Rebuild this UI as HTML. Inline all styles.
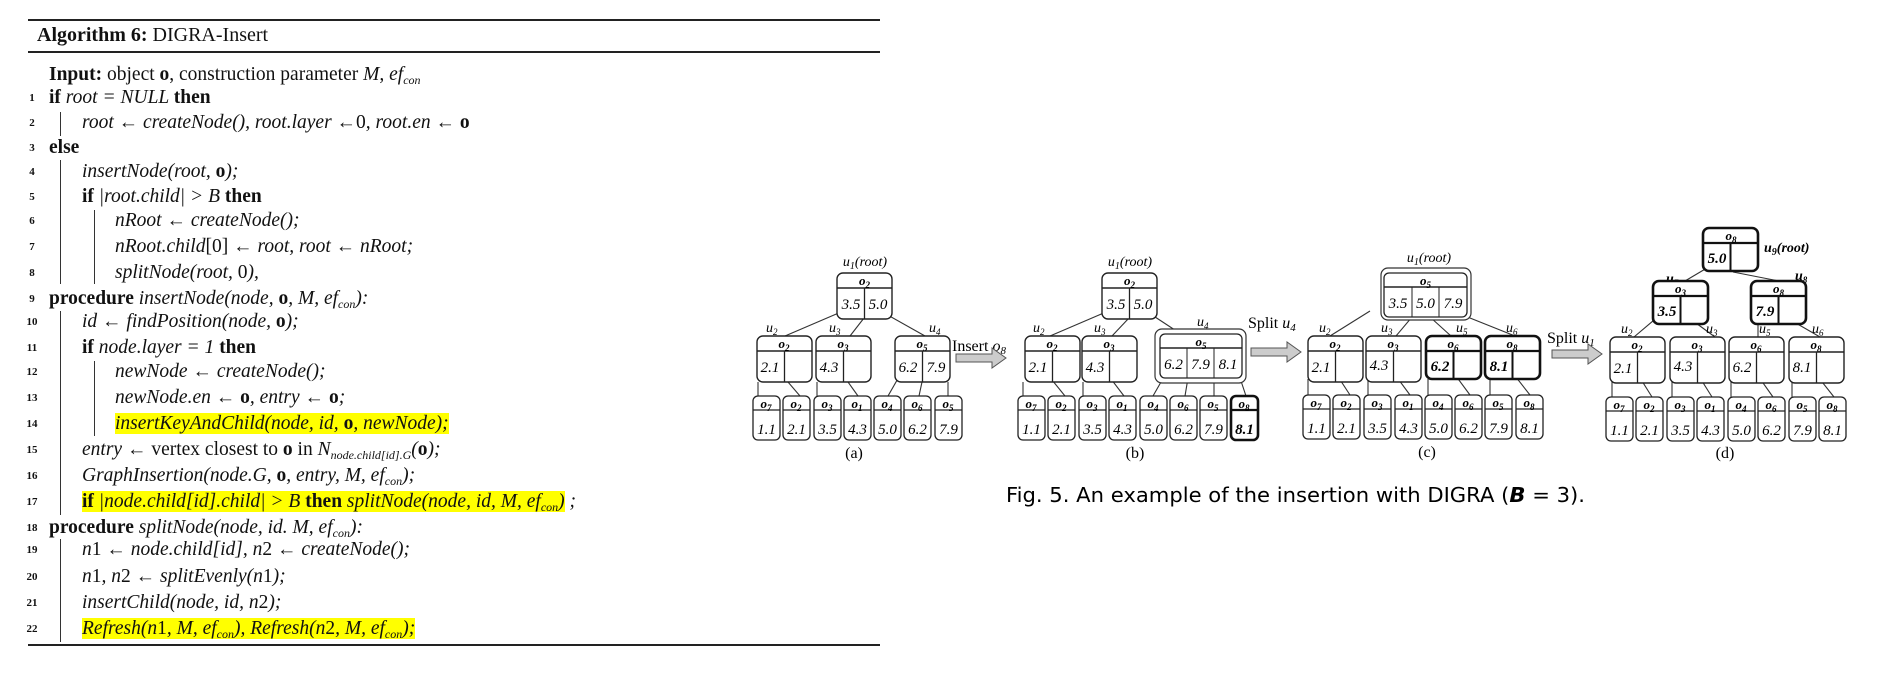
<!DOCTYPE html>
<html><head><meta charset="utf-8"><style>
body{margin:0;width:1882px;height:680px;background:#fff;position:relative;overflow:hidden;font-family:"Liberation Serif",serif;color:#111}
.l{position:absolute;font-size:19.5px;line-height:24px;white-space:nowrap;font-style:italic}
.l sub{font-size:12px;line-height:0;vertical-align:-4px}
.n{position:absolute;left:22px;width:20px;text-align:center;font-size:11px;font-weight:bold;line-height:24px;font-style:normal}
b{font-style:normal}
.r{font-style:normal}
.hl{background:#ffff00}
.bar{position:absolute;width:1px;background:#333}
.rule{position:absolute;left:28px;width:852px;background:#222}
svg text{font-family:"Liberation Serif",serif;font-style:italic}
.h{font-weight:bold;font-size:13px;text-anchor:middle}
.v{font-size:15px;text-anchor:middle}
.lb{font-size:14px}
</style></head><body>
<div class="rule" style="top:19px;height:2px"></div>
<div class="l" style="left:37px;top:23px;font-size:20px;font-style:normal"><b>Algorithm 6:</b> DIGRA-Insert</div>
<div class="rule" style="top:51px;height:2px"></div>
<div class="rule" style="top:644px;height:2px"></div>

<div class="l" style="left:49px;top:63px"><b>Input:</b> <span class="r">object <b>o</b>, construction parameter</span> M, ef<sub>con</sub></div>
<div class="n" style="top:86px">1</div><div class="l" style="left:49px;top:86px"><b>if</b> root = NULL <b>then</b></div>
<div class="n" style="top:111px">2</div><div class="l" style="left:82px;top:111px">root ← createNode(), root.layer ←<span class="r">0</span>, root.en ← <b>o</b></div>
<div class="n" style="top:136px">3</div><div class="l" style="left:49px;top:136px"><b>else</b></div>
<div class="n" style="top:160px">4</div><div class="l" style="left:82px;top:160px">insertNode(root, <b>o</b>);</div>
<div class="n" style="top:185px">5</div><div class="l" style="left:82px;top:185px"><b>if</b> |root.child| &gt; B <b>then</b></div>
<div class="n" style="top:209px">6</div><div class="l" style="left:115px;top:209px">nRoot ← createNode();</div>
<div class="n" style="top:235px">7</div><div class="l" style="left:115px;top:235px">nRoot.child<span class="r">[0]</span> ← root, root ← nRoot;</div>
<div class="n" style="top:261px">8</div><div class="l" style="left:115px;top:261px">splitNode(root, <span class="r">0</span>),</div>
<div class="n" style="top:287px">9</div><div class="l" style="left:49px;top:287px"><b>procedure</b> insertNode(node, <b>o</b>, M, ef<sub>con</sub>):</div>
<div class="n" style="top:310px">10</div><div class="l" style="left:82px;top:310px">id ← findPosition(node, <b>o</b>);</div>
<div class="n" style="top:336px">11</div><div class="l" style="left:82px;top:336px"><b>if</b> node.layer = 1 <b>then</b></div>
<div class="n" style="top:360px">12</div><div class="l" style="left:115px;top:360px">newNode ← createNode();</div>
<div class="n" style="top:386px">13</div><div class="l" style="left:115px;top:386px">newNode.en ← <b>o</b>, entry ← <b>o</b>;</div>
<div class="n" style="top:412px">14</div><div class="l" style="left:115px;top:412px"><span class="hl">insertKeyAndChild(node, id, <b>o</b>, newNode);</span></div>
<div class="n" style="top:438px">15</div><div class="l" style="left:82px;top:438px">entry ← <span class="r">vertex closest to <b>o</b> in</span> N<sub>node.child[id].G</sub>(<b>o</b>);</div>
<div class="n" style="top:464px">16</div><div class="l" style="left:82px;top:464px">GraphInsertion(node.G, <b>o</b>, entry, M, ef<sub>con</sub>);</div>
<div class="n" style="top:490px">17</div><div class="l" style="left:82px;top:490px"><span class="hl"><b>if</b> |node.child[id].child| &gt; B <b>then</b> splitNode(node, id, M, ef<sub>con</sub>)</span> ;</div>
<div class="n" style="top:516px">18</div><div class="l" style="left:49px;top:516px"><b>procedure</b> splitNode(node, id. M, ef<sub>con</sub>):</div>
<div class="n" style="top:538px">19</div><div class="l" style="left:82px;top:538px">n<span class="r">1</span> ← node.child[id], n<span class="r">2</span> ← createNode();</div>
<div class="n" style="top:565px">20</div><div class="l" style="left:82px;top:565px">n<span class="r">1</span>, n<span class="r">2</span> ← splitEvenly(n<span class="r">1</span>);</div>
<div class="n" style="top:591px">21</div><div class="l" style="left:82px;top:591px">insertChild(node, id, n<span class="r">2</span>);</div>
<div class="n" style="top:617px">22</div><div class="l" style="left:82px;top:617px"><span class="hl">Refresh(n<span class="r">1</span>, M, ef<sub>con</sub>), Refresh(n<span class="r">2</span>, M, ef<sub>con</sub>);</span></div>

<div class="bar" style="left:60px;top:112px;height:24px"></div>
<div class="bar" style="left:60px;top:160px;height:124px"></div>
<div class="bar" style="left:94px;top:210px;height:74px"></div>
<div class="bar" style="left:60px;top:311px;height:204px"></div>
<div class="bar" style="left:94px;top:361px;height:75px"></div>
<div class="bar" style="left:60px;top:539px;height:103px"></div>

<svg width="1882" height="680" style="position:absolute;left:0;top:0" xmlns="http://www.w3.org/2000/svg">
<defs>
<g id="lf"><rect x="0" y="0" width="27" height="44" rx="5" fill="#fff" stroke="#222" stroke-width="1.3"/><line x1="0" y1="14" x2="27" y2="14" stroke="#222" stroke-width="1.3"/></g>
<g id="in2"><rect x="0" y="0" width="55" height="46" rx="6" fill="#fff" stroke="#222" stroke-width="1.4"/><line x1="0" y1="15" x2="55" y2="15" stroke="#222" stroke-width="1.6"/><line x1="27.5" y1="15" x2="27.5" y2="46" stroke="#222" stroke-width="1.3"/></g>
<g id="in2b"><rect x="0" y="0" width="55" height="43" rx="6" fill="#fff" stroke="#111" stroke-width="2.6"/><line x1="0" y1="15" x2="55" y2="15" stroke="#111" stroke-width="2.2"/><line x1="27.5" y1="15" x2="27.5" y2="43" stroke="#111" stroke-width="2"/></g>
<path id="arr" d="M0,-4 H36 V-10 L50,0 L36,10 V4 H0 Z" fill="#ccc" stroke="#555" stroke-width="1"/>
</defs>
<g stroke="#333" stroke-width="1.1">
<line x1="848" y1="309" x2="785" y2="336"/><line x1="864" y1="318" x2="850" y2="336"/><line x1="884" y1="313" x2="925" y2="336"/>
<line x1="758" y1="382" x2="758" y2="396"/><line x1="782" y1="375" x2="800" y2="396"/><line x1="817" y1="382" x2="817" y2="396"/><line x1="843" y1="375" x2="858" y2="396"/><line x1="900" y1="375" x2="888" y2="396"/><line x1="922" y1="382" x2="919" y2="396"/><line x1="948" y1="382" x2="948" y2="396"/>
<line x1="1113" y1="309" x2="1050" y2="336"/><line x1="1129" y1="318" x2="1112" y2="336"/><line x1="1149" y1="313" x2="1184" y2="336"/>
<line x1="1023" y1="382" x2="1023" y2="396"/><line x1="1048" y1="375" x2="1065" y2="396"/><line x1="1083" y1="382" x2="1083" y2="396"/><line x1="1108" y1="375" x2="1124" y2="396"/><line x1="1165" y1="375" x2="1153" y2="396"/><line x1="1188" y1="378" x2="1185" y2="396"/><line x1="1214" y1="378" x2="1214" y2="396"/><line x1="1240" y1="378" x2="1246" y2="396"/>
<line x1="1370" y1="311" x2="1330" y2="336"/><line x1="1412" y1="317" x2="1396" y2="336"/><line x1="1430" y1="317" x2="1451" y2="336"/><line x1="1460" y1="314" x2="1515" y2="336"/>
<line x1="1308" y1="379" x2="1308" y2="395"/><line x1="1335" y1="372" x2="1350" y2="395"/><line x1="1368" y1="379" x2="1368" y2="395"/><line x1="1393" y1="372" x2="1410" y2="395"/><line x1="1428" y1="379" x2="1428" y2="395"/><line x1="1453" y1="372" x2="1470" y2="395"/><line x1="1490" y1="379" x2="1490" y2="395"/><line x1="1512" y1="372" x2="1530" y2="395"/>
<line x1="1712" y1="265" x2="1685" y2="281"/><line x1="1733" y1="272" x2="1779" y2="281"/>
<line x1="1660" y1="315" x2="1634" y2="337"/><line x1="1685" y1="315" x2="1715" y2="337"/><line x1="1758" y1="321" x2="1758" y2="337"/><line x1="1782" y1="315" x2="1820" y2="337"/>
<line x1="1612" y1="380" x2="1612" y2="397"/><line x1="1637" y1="373" x2="1652" y2="397"/><line x1="1672" y1="380" x2="1672" y2="397"/><line x1="1697" y1="373" x2="1712" y2="397"/><line x1="1731" y1="380" x2="1731" y2="397"/><line x1="1756" y1="373" x2="1773" y2="397"/><line x1="1792" y1="380" x2="1792" y2="397"/><line x1="1815" y1="373" x2="1834" y2="397"/>
</g>

<!-- (a) -->
<text x="865" y="266" class="lb" text-anchor="middle">u<tspan font-size="10" dy="3">1</tspan><tspan dy="-3">(root)</tspan></text>
<use href="#in2" x="837" y="273"/><text x="864.5" y="285" class="h">o<tspan font-size="9" dy="3">2</tspan></text>
<text x="851" y="309" class="v">3.5</text><text x="878" y="309" class="v">5.0</text>
<text x="766" y="332" class="lb">u<tspan font-size="9" dy="3">2</tspan></text><text x="829" y="332" class="lb">u<tspan font-size="9" dy="3">3</tspan></text><text x="929" y="332" class="lb">u<tspan font-size="9" dy="3">4</tspan></text>
<use href="#in2" x="757" y="336"/><text x="784" y="348" class="h">o<tspan font-size="9" dy="3">2</tspan></text><text x="770" y="372" class="v">2.1</text>
<use href="#in2" x="816" y="336"/><text x="843" y="348" class="h">o<tspan font-size="9" dy="3">3</tspan></text><text x="829" y="372" class="v">4.3</text>
<use href="#in2" x="895" y="336"/><text x="922" y="348" class="h">o<tspan font-size="9" dy="3">5</tspan></text><text x="908" y="372" class="v">6.2</text><text x="936" y="372" class="v">7.9</text>
<g>
<use href="#lf" x="753" y="396"/><use href="#lf" x="783" y="396"/><use href="#lf" x="814" y="396"/><use href="#lf" x="844" y="396"/><use href="#lf" x="874" y="396"/><use href="#lf" x="904" y="396"/><use href="#lf" x="935" y="396"/>
<text x="766" y="408" class="h">o<tspan font-size="9" dy="3">7</tspan></text><text x="796" y="408" class="h">o<tspan font-size="9" dy="3">2</tspan></text><text x="827" y="408" class="h">o<tspan font-size="9" dy="3">3</tspan></text><text x="857" y="408" class="h">o<tspan font-size="9" dy="3">1</tspan></text><text x="887" y="408" class="h">o<tspan font-size="9" dy="3">4</tspan></text><text x="917" y="408" class="h">o<tspan font-size="9" dy="3">6</tspan></text><text x="948" y="408" class="h">o<tspan font-size="9" dy="3">5</tspan></text>
<text x="766.5" y="434" class="v">1.1</text><text x="796.5" y="434" class="v">2.1</text><text x="827.5" y="434" class="v">3.5</text><text x="857.5" y="434" class="v">4.3</text><text x="887.5" y="434" class="v">5.0</text><text x="917.5" y="434" class="v">6.2</text><text x="948.5" y="434" class="v">7.9</text>
</g>
<text x="854" y="458" font-size="16" text-anchor="middle" style="font-style:normal">(a)</text>
<text x="952" y="351" font-size="16" style="font-style:normal">Insert <tspan font-style="italic">o</tspan><tspan font-size="11" dy="3" font-style="italic">8</tspan></text>
<use href="#arr" x="956" y="358"/>

<!-- (b) -->
<text x="1130" y="266" class="lb" text-anchor="middle">u<tspan font-size="10" dy="3">1</tspan><tspan dy="-3">(root)</tspan></text>
<use href="#in2" x="1102" y="273"/><text x="1129.5" y="285" class="h">o<tspan font-size="9" dy="3">2</tspan></text>
<text x="1116" y="309" class="v">3.5</text><text x="1143" y="309" class="v">5.0</text>
<text x="1033" y="332" class="lb">u<tspan font-size="9" dy="3">2</tspan></text><text x="1094" y="332" class="lb">u<tspan font-size="9" dy="3">3</tspan></text><text x="1197" y="326" class="lb">u<tspan font-size="9" dy="3">4</tspan></text>
<use href="#in2" x="1025" y="336"/><text x="1052" y="348" class="h">o<tspan font-size="9" dy="3">2</tspan></text><text x="1038" y="372" class="v">2.1</text>
<use href="#in2" x="1082" y="336"/><text x="1109" y="348" class="h">o<tspan font-size="9" dy="3">3</tspan></text><text x="1095" y="372" class="v">4.3</text>
<rect x="1155" y="329" width="91" height="54" rx="7" fill="#fff" stroke="#333" stroke-width="1.2"/>
<rect x="1160" y="334" width="82" height="44" rx="5" fill="#fff" stroke="#222" stroke-width="1.3"/>
<line x1="1160" y1="348" x2="1242" y2="348" stroke="#222" stroke-width="1.5"/><line x1="1187" y1="348" x2="1187" y2="378" stroke="#222"/><line x1="1214" y1="348" x2="1214" y2="378" stroke="#222"/>
<text x="1201" y="346" class="h">o<tspan font-size="9" dy="3">5</tspan></text>
<text x="1173.5" y="369" class="v">6.2</text><text x="1200.5" y="369" class="v">7.9</text><text x="1228" y="369" class="v">8.1</text>
<g>
<use href="#lf" x="1018" y="396"/><use href="#lf" x="1048" y="396"/><use href="#lf" x="1079" y="396"/><use href="#lf" x="1109" y="396"/><use href="#lf" x="1140" y="396"/><use href="#lf" x="1170" y="396"/><use href="#lf" x="1200" y="396"/>
<rect x="1231" y="396" width="27" height="44" rx="5" fill="#fff" stroke="#111" stroke-width="2.6"/><line x1="1231" y1="410" x2="1258" y2="410" stroke="#111" stroke-width="2.2"/>
<text x="1031" y="408" class="h">o<tspan font-size="9" dy="3">7</tspan></text><text x="1061" y="408" class="h">o<tspan font-size="9" dy="3">2</tspan></text><text x="1092" y="408" class="h">o<tspan font-size="9" dy="3">3</tspan></text><text x="1122" y="408" class="h">o<tspan font-size="9" dy="3">1</tspan></text><text x="1153" y="408" class="h">o<tspan font-size="9" dy="3">4</tspan></text><text x="1183" y="408" class="h">o<tspan font-size="9" dy="3">6</tspan></text><text x="1213" y="408" class="h">o<tspan font-size="9" dy="3">5</tspan></text><text x="1244" y="408" class="h">o<tspan font-size="9" dy="3">8</tspan></text>
<text x="1031.5" y="434" class="v">1.1</text><text x="1061.5" y="434" class="v">2.1</text><text x="1092.5" y="434" class="v">3.5</text><text x="1122.5" y="434" class="v">4.3</text><text x="1153.5" y="434" class="v">5.0</text><text x="1183.5" y="434" class="v">6.2</text><text x="1213.5" y="434" class="v">7.9</text><text x="1244.5" y="434" class="v" font-weight="bold">8.1</text>
</g>
<text x="1135" y="458" font-size="16" text-anchor="middle" style="font-style:normal">(b)</text>
<text x="1248" y="328" font-size="16" style="font-style:normal">Split <tspan font-style="italic">u</tspan><tspan font-size="11" dy="3" font-style="italic">4</tspan></text>
<use href="#arr" x="1251" y="352"/>

<!-- (c) -->
<text x="1429" y="262" class="lb" text-anchor="middle">u<tspan font-size="10" dy="3">1</tspan><tspan dy="-3">(root)</tspan></text>
<rect x="1381" y="268" width="90" height="52" rx="7" fill="#fff" stroke="#333" stroke-width="1.2"/>
<rect x="1384" y="273" width="83" height="44" rx="5" fill="#fff" stroke="#222" stroke-width="1.3"/>
<line x1="1384" y1="287" x2="1467" y2="287" stroke="#222" stroke-width="1.5"/><line x1="1412" y1="287" x2="1412" y2="317" stroke="#222"/><line x1="1439" y1="287" x2="1439" y2="317" stroke="#222"/>
<text x="1425.5" y="285" class="h">o<tspan font-size="9" dy="3">5</tspan></text>
<text x="1398" y="308" class="v">3.5</text><text x="1425.5" y="308" class="v">5.0</text><text x="1453" y="308" class="v">7.9</text>
<text x="1319" y="332" class="lb">u<tspan font-size="9" dy="3">2</tspan></text><text x="1381" y="332" class="lb">u<tspan font-size="9" dy="3">3</tspan></text><text x="1456" y="332" class="lb">u<tspan font-size="9" dy="3">5</tspan></text><text x="1506" y="332" class="lb">u<tspan font-size="9" dy="3">6</tspan></text>
<use href="#in2" x="1308" y="336"/><text x="1335" y="348" class="h">o<tspan font-size="9" dy="3">2</tspan></text><text x="1321" y="372" class="v">2.1</text>
<use href="#in2" x="1366" y="336"/><text x="1393" y="348" class="h">o<tspan font-size="9" dy="3">3</tspan></text><text x="1379" y="370" class="v">4.3</text>
<use href="#in2b" x="1426" y="336"/><text x="1453" y="348" class="h">o<tspan font-size="9" dy="3">6</tspan></text><text x="1440" y="371" class="v" font-weight="bold">6.2</text>
<use href="#in2b" x="1485" y="336"/><text x="1512" y="348" class="h">o<tspan font-size="9" dy="3">8</tspan></text><text x="1499" y="371" class="v" font-weight="bold">8.1</text>
<g>
<use href="#lf" x="1303" y="395"/><use href="#lf" x="1333" y="395"/><use href="#lf" x="1364" y="395"/><use href="#lf" x="1395" y="395"/><use href="#lf" x="1425" y="395"/><use href="#lf" x="1455" y="395"/><use href="#lf" x="1485" y="395"/><use href="#lf" x="1516" y="395"/>
<text x="1316" y="407" class="h">o<tspan font-size="9" dy="3">7</tspan></text><text x="1346" y="407" class="h">o<tspan font-size="9" dy="3">2</tspan></text><text x="1377" y="407" class="h">o<tspan font-size="9" dy="3">3</tspan></text><text x="1408" y="407" class="h">o<tspan font-size="9" dy="3">1</tspan></text><text x="1438" y="407" class="h">o<tspan font-size="9" dy="3">4</tspan></text><text x="1468" y="407" class="h">o<tspan font-size="9" dy="3">6</tspan></text><text x="1498" y="407" class="h">o<tspan font-size="9" dy="3">5</tspan></text><text x="1529" y="407" class="h">o<tspan font-size="9" dy="3">8</tspan></text>
<text x="1316.5" y="433" class="v">1.1</text><text x="1346.5" y="433" class="v">2.1</text><text x="1377.5" y="433" class="v">3.5</text><text x="1408.5" y="433" class="v">4.3</text><text x="1438.5" y="433" class="v">5.0</text><text x="1468.5" y="433" class="v">6.2</text><text x="1498.5" y="433" class="v">7.9</text><text x="1529.5" y="433" class="v">8.1</text>
</g>
<text x="1427" y="457" font-size="16" text-anchor="middle" style="font-style:normal">(c)</text>
<text x="1547" y="343" font-size="16" style="font-style:normal">Split <tspan font-style="italic">u</tspan><tspan font-size="11" dy="3" font-style="italic">1</tspan></text>
<use href="#arr" x="1552" y="354"/>

<!-- (d) -->
<use href="#in2b" x="1703" y="228"/><text x="1731" y="240" class="h">o<tspan font-size="9" dy="3">8</tspan></text><text x="1717" y="263" class="v" font-weight="bold">5.0</text>
<text x="1764" y="252" class="lb" font-weight="bold">u<tspan font-size="10" dy="3">9</tspan><tspan dy="-3">(root)</tspan></text>
<text x="1666" y="283" class="lb" font-weight="bold">u<tspan font-size="9" dy="3">7</tspan></text><text x="1795" y="280" class="lb" font-weight="bold">u<tspan font-size="9" dy="3">8</tspan></text>
<use href="#in2b" x="1653" y="281"/><text x="1680.5" y="293" class="h">o<tspan font-size="9" dy="3">3</tspan></text><text x="1667" y="316" class="v" font-weight="bold">3.5</text>
<use href="#in2b" x="1751" y="281"/><text x="1778.5" y="293" class="h">o<tspan font-size="9" dy="3">8</tspan></text><text x="1765" y="316" class="v" font-weight="bold">7.9</text>
<text x="1621" y="333" class="lb">u<tspan font-size="9" dy="3">2</tspan></text><text x="1706" y="333" class="lb">u<tspan font-size="9" dy="3">3</tspan></text><text x="1759" y="333" class="lb">u<tspan font-size="9" dy="3">5</tspan></text><text x="1812" y="333" class="lb">u<tspan font-size="9" dy="3">6</tspan></text>
<use href="#in2" x="1610" y="337"/><text x="1637" y="349" class="h">o<tspan font-size="9" dy="3">2</tspan></text><text x="1623" y="373" class="v">2.1</text>
<use href="#in2" x="1670" y="337"/><text x="1697" y="349" class="h">o<tspan font-size="9" dy="3">3</tspan></text><text x="1683" y="371" class="v">4.3</text>
<use href="#in2" x="1729" y="337"/><text x="1756" y="349" class="h">o<tspan font-size="9" dy="3">6</tspan></text><text x="1742" y="372" class="v">6.2</text>
<use href="#in2" x="1789" y="337"/><text x="1816" y="349" class="h">o<tspan font-size="9" dy="3">8</tspan></text><text x="1802" y="372" class="v">8.1</text>
<g>
<use href="#lf" x="1606" y="397"/><use href="#lf" x="1636" y="397"/><use href="#lf" x="1667" y="397"/><use href="#lf" x="1697" y="397"/><use href="#lf" x="1728" y="397"/><use href="#lf" x="1758" y="397"/><use href="#lf" x="1789" y="397"/><use href="#lf" x="1819" y="397"/>
<text x="1619" y="409" class="h">o<tspan font-size="9" dy="3">7</tspan></text><text x="1649" y="409" class="h">o<tspan font-size="9" dy="3">2</tspan></text><text x="1680" y="409" class="h">o<tspan font-size="9" dy="3">3</tspan></text><text x="1710" y="409" class="h">o<tspan font-size="9" dy="3">1</tspan></text><text x="1741" y="409" class="h">o<tspan font-size="9" dy="3">4</tspan></text><text x="1771" y="409" class="h">o<tspan font-size="9" dy="3">6</tspan></text><text x="1802" y="409" class="h">o<tspan font-size="9" dy="3">5</tspan></text><text x="1832" y="409" class="h">o<tspan font-size="9" dy="3">8</tspan></text>
<text x="1619.5" y="435" class="v">1.1</text><text x="1649.5" y="435" class="v">2.1</text><text x="1680.5" y="435" class="v">3.5</text><text x="1710.5" y="435" class="v">4.3</text><text x="1741.5" y="435" class="v">5.0</text><text x="1771.5" y="435" class="v">6.2</text><text x="1802.5" y="435" class="v">7.9</text><text x="1832.5" y="435" class="v">8.1</text>
</g>
<text x="1725" y="458" font-size="16" text-anchor="middle" style="font-style:normal">(d)</text>

<text x="1006" y="502" font-size="20" style="font-family:'DejaVu Sans','Liberation Sans',sans-serif;font-style:normal" textLength="579" lengthAdjust="spacingAndGlyphs">Fig. 5.  An example of the insertion with DIGRA (<tspan font-weight="bold" font-style="italic">B</tspan> = 3).</text>
</svg>
</body></html>
